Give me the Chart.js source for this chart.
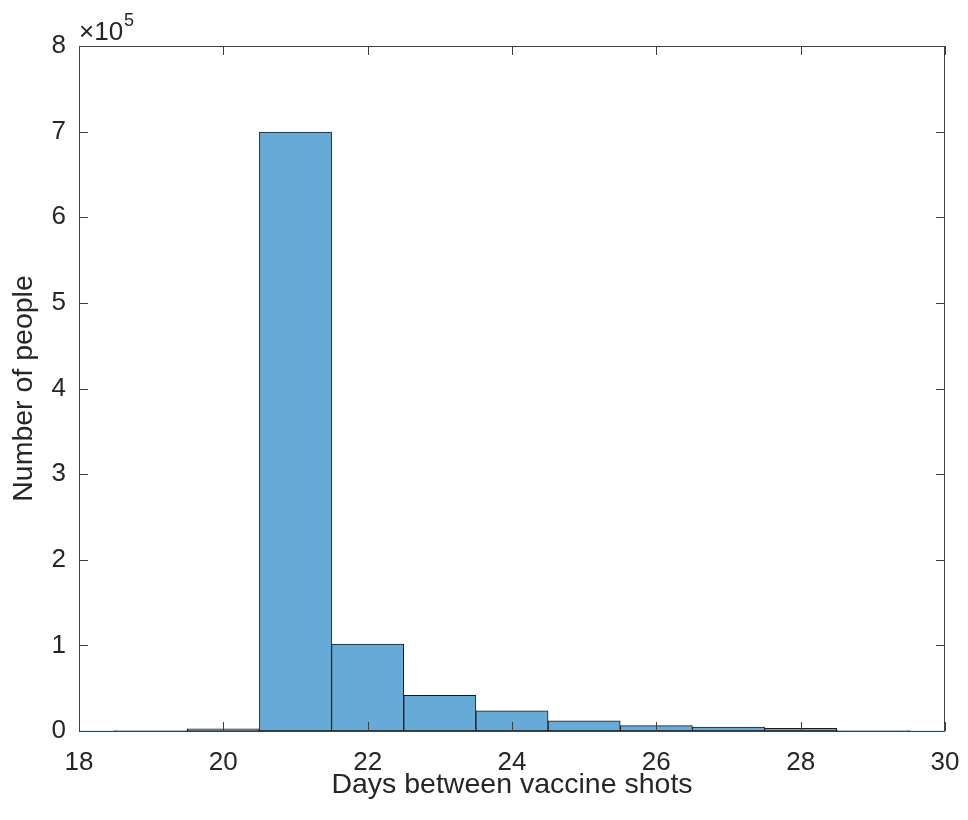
<!DOCTYPE html>
<html>
<head>
<meta charset="utf-8">
<script src="https://cdn.jsdelivr.net/npm/chart.js@4"></script>
<style>
  html, body { margin: 0; padding: 0; background: #fff; }
  #wrap { width: 968px; height: 820px; }
</style>
</head>
<body>
<div id="wrap"><canvas id="histCanvas" width="968" height="820"></canvas></div>
<script>
// bin centres (days) and counts
const binCenters = [18, 19, 20, 21, 22, 23, 24, 25, 26, 27, 28, 29, 30];
const binCounts  = [300, 400, 2500, 699500, 101600, 41700, 23700, 12000, 6200, 4700, 3200, 600, 300];
const xTicks = [18, 20, 22, 24, 26, 28, 30];
const yTicks = [0, 1, 2, 3, 4, 5, 6, 7, 8];   // x 10^5

const textColor = '#262626';
const fontFamily = "'Liberation Sans', Arial, Helvetica, sans-serif";

// MATLAB style box with inward tick marks + exponent label
const boxPlugin = {
    id: 'matlabBox',
    afterDraw(chart) {
        const { ctx, chartArea: a, scales } = chart;
        ctx.save();
        ctx.strokeStyle = '#404040';
        ctx.lineWidth = 1;
        ctx.strokeRect(a.left + 0.5, a.top + 0.5, a.right - a.left - 1, a.bottom - a.top);
        const len = 9;
        ctx.beginPath();
        xTicks.forEach(t => {
            const x = Math.round(scales.x.getPixelForValue(t)) + 0.5;
            ctx.moveTo(x, a.bottom); ctx.lineTo(x, a.bottom - len);
            ctx.moveTo(x, a.top); ctx.lineTo(x, a.top + len);
        });
        yTicks.forEach(t => {
            const y = Math.round(scales.y.getPixelForValue(t * 1e5)) + 0.5;
            ctx.moveTo(a.left, y); ctx.lineTo(a.left + len, y);
            ctx.moveTo(a.right, y); ctx.lineTo(a.right - len, y);
        });
        ctx.stroke();

        ctx.fillStyle = textColor;
        ctx.textBaseline = 'alphabetic';
        ctx.textAlign = 'left';
        ctx.font = '26px ' + fontFamily;
        ctx.fillText('\u00d710', a.left, a.top - 6);
        const w = ctx.measureText('\u00d710').width;
        ctx.font = '18px ' + fontFamily;
        ctx.fillText('5', a.left + w + 1, a.top - 20);
        ctx.restore();
    }
};

new Chart(document.getElementById('histCanvas').getContext('2d'), {
    type: 'bar',
    data: {
        datasets: [{
            label: 'Number of people',
            data: binCenters.map((c, i) => ({ x: c, y: binCounts[i] })),
            backgroundColor: '#66aad7',
            borderColor: '#1a1a1a',
            borderWidth: 1,
            borderSkipped: false,
            barPercentage: 1,
            categoryPercentage: 1
        }]
    },
    options: {
        responsive: false,
        animation: false,
        layout: { padding: { left: 0, right: 23, top: 46, bottom: 0 } },
        plugins: {
            legend: { display: false },
            tooltip: { enabled: false }
        },
        scales: {
            x: {
                type: 'linear',
                min: 18,
                max: 30,
                offset: false,
                afterBuildTicks: s => { s.ticks = xTicks.map(v => ({ value: v })); },
                afterFit: s => { s.height = 89; s.paddingLeft = 0; s.paddingRight = 0; },
                grid: { display: false, drawTicks: false, offset: false },
                border: { display: false },
                ticks: {
                    padding: 16,
                    color: textColor,
                    font: { family: fontFamily, size: 26 },
                    maxRotation: 0
                },
                title: {
                    display: true,
                    text: 'Days between vaccine shots',
                    color: textColor,
                    font: { family: fontFamily, size: 28.5 },
                    padding: { top: 0, bottom: 18 }
                }
            },
            y: {
                min: 0,
                max: 800000,
                afterBuildTicks: s => { s.ticks = yTicks.map(v => ({ value: v * 1e5 })); },
                afterFit: s => { s.width = 79; s.paddingTop = 0; s.paddingBottom = 0; },
                grid: { display: false, drawTicks: false },
                border: { display: false },
                ticks: {
                    padding: 13,
                    color: textColor,
                    font: { family: fontFamily, size: 26 },
                    callback: v => String(v / 1e5)
                },
                title: {
                    display: true,
                    text: 'Number of people',
                    color: textColor,
                    font: { family: fontFamily, size: 28.5 },
                    padding: { top: 7, bottom: 0 }
                }
            }
        }
    },
    plugins: [boxPlugin]
});
</script>
</body>
</html>
